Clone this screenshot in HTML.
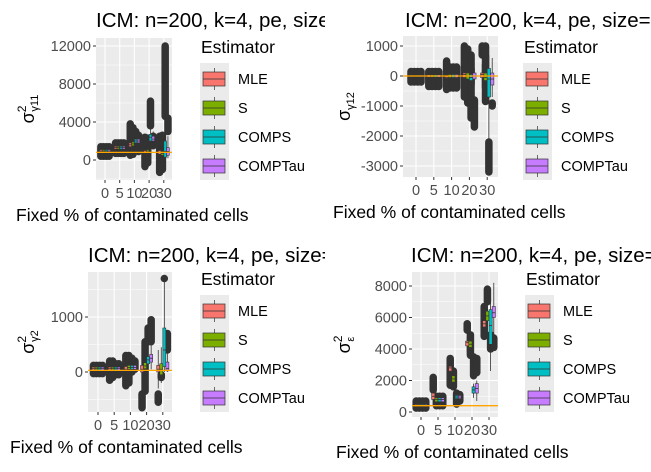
<!DOCTYPE html>
<html><head><meta charset="utf-8"><style>
html,body{margin:0;padding:0;background:#fff;}
svg text{font-family:"Liberation Sans",sans-serif;}
</style></head><body>
<svg id="chart" width="651" height="467" viewBox="0 0 651 467" xmlns="http://www.w3.org/2000/svg"></svg>
<script>
const categories = ["0","5","10","20","30"];
const estimators = ["MLE","S","COMPS","COMPTau"];
const colors = ["#F8766D","#7CAE00","#00BFC4","#C77CFF"];

// Panel 1: sigma^2 gamma11  — [whiskerLow, q1, median, q3, whiskerHigh]
const p1MLE = [[600,850,950,1100,1300],[900,1150,1300,1450,1700],[1000,1400,1600,1800,2200],[300,700,850,1000,1500],[200,600,800,1000,1600]];
const p1S = [[600,850,950,1100,1300],[900,1150,1300,1450,1700],[1000,1500,1700,1900,2300],[400,800,950,1100,1600],[100,500,700,900,1500]];
const p1COMPS = [[600,850,950,1100,1300],[900,1150,1300,1450,1700],[1200,1800,2000,2200,2800],[1500,2000,2400,2700,3500],[-500,300,900,2000,4500]];
const p1COMPTau = [[600,850,950,1100,1300],[900,1150,1300,1450,1700],[1300,1800,2000,2200,2600],[1500,2000,2200,2500,3000],[200,500,900,1300,2500]];
const p1Out = [[[400,1400],[400,1400],[400,1400],[400,1400]],[[700,1800],[700,1800],[700,1800],[700,1800]],[[500,3800],[600,3400],[1000,3000],[900,2600]],[[-700,2400],[-300,2300],[3600,6200],[1500,2500]],[[-1300,2500],[-1000,2600],[4600,12000],[3000,4400]]];
const p1Ticks = [0,4000,8000,12000];
const p1Ref = 800;

// Panel 2: sigma gamma12
const p2MLE = [[-100,-30,0,30,100],[-150,-40,0,40,120],[-150,-80,-50,0,80],[-300,-50,50,100,300],[-400,-50,50,100,400]];
const p2S = [[-100,-30,0,30,100],[-150,-40,0,40,120],[-120,-50,0,50,120],[-300,-100,0,100,300],[-350,-150,-50,100,400]];
const p2COMPS = [[-100,-30,0,30,100],[-150,-40,0,40,120],[-120,-50,0,50,120],[-400,-150,-50,50,300],[-3000,-700,-100,250,700]];
const p2COMPTau = [[-100,-30,0,30,100],[-150,-40,0,40,120],[-120,-50,0,50,120],[-300,-100,0,100,250],[-700,-300,-100,100,600]];
const p2Out = [[[-200,150],[-200,150],[-200,150],[-200,150]],[[-350,150],[-350,150],[-350,150],[-350,150]],[[-450,500],[-400,300],[-400,300],[-400,300]],[[-700,1000],[-900,900],[-1400,700],[-1700,-800]],[[700,1000],[-850,1000],[-3200,-2200],[-1000,-900]]];
const p2Ticks = [-3000,-2000,-1000,0,1000];
const p2Ref = 0;

// Panel 3: sigma^2 gamma2
const p3MLE = [[0,30,60,90,130],[0,30,60,90,140],[-50,20,50,100,200],[-200,0,50,120,350],[-300,0,50,120,400]];
const p3S = [[0,30,60,90,130],[0,30,60,90,140],[0,50,80,120,220],[-150,60,110,170,380],[-200,-50,50,150,450]];
const p3COMPS = [[0,30,60,90,130],[0,30,60,90,140],[0,50,80,120,220],[0,150,220,280,500],[0,100,400,800,1700]];
const p3COMPTau = [[0,30,60,90,130],[0,30,60,90,140],[0,50,80,120,220],[50,180,250,320,500],[0,20,60,180,400]];
const p3Out = [[[-30,120],[-30,120],[-30,120],[-30,120]],[[-150,200],[-100,200],[-50,150],[-50,150]],[[-250,300],[-200,300],[0,250],[50,200]],[[-650,-400],[-350,550],[550,800],[550,950]],[[-550,-400],[-100,-50],[1700,1700],[400,700]]];
const p3Ticks = [0,1000];
const p3Ref = 30;

// Panel 4: sigma^2 epsilon
const p4MLE = [[250,350,420,480,600],[400,800,1000,1200,1600],[2000,2600,2800,2900,3200],[3800,4200,4400,4500,4800],[5000,5400,5600,5800,6100]];
const p4S = [[250,350,420,480,600],[400,650,800,900,1100],[1500,1900,2100,2300,2600],[3900,4100,4300,4500,4800],[5200,5800,6100,6400,7000]];
const p4COMPS = [[250,350,420,480,600],[400,650,800,900,1100],[600,850,950,1050,1200],[900,1200,1400,1600,1800],[2600,4300,5500,6500,7200]];
const p4COMPTau = [[250,350,420,480,600],[400,650,800,900,1100],[700,850,950,1050,1100],[700,1200,1500,1800,2000],[4800,6000,6300,6700,8200]];
const p4Out = [[[250,700],[250,700],[250,700],[250,700]],[[1400,2200],[400,1000],[400,1000],[400,1000]],[[1700,3400],[1600,2600],[500,1200],[700,1100]],[[5200,5600],[3600,4900],[2300,3500],[2500,3400]],[[4800,6700],[7000,7800],[4000,4900],[4100,4700]]];
const p4Ticks = [0,2000,4000,6000,8000];
const p4Ref = 400;

const svg = document.getElementById('chart');
const NS = 'http://www.w3.org/2000/svg';
function mk(tag, attrs, parent){ const e=document.createElementNS(NS,tag); for(const k in attrs) e.setAttribute(k,attrs[k]); (parent||svg).appendChild(e); return e; }

function panel(L, series, outs, ticks, ref, ylab){
  const g = mk('g',{});
  
  
  const y = v => L.y0 - (v - 0) * L.k;
  const xc = i => L.c0 + i * L.dx;
  const cid = L.name + '-clip';
  const cp = mk('clipPath',{id:cid}, g); mk('rect',{x:L.x1,y:L.y1,width:L.x2-L.x1,height:L.y2-L.y1}, cp);
  const bg = mk('rect',{x:L.x1,y:L.y1,width:L.x2-L.x1,height:L.y2-L.y1,fill:'#EBEBEB'}, g);
   
  const step = ticks[1]-ticks[0];
  for(let t=ticks[0]-step; t<=ticks[ticks.length-1]+step; t+=step/2){
    const yy=y(t); if(yy<L.y1||yy>L.y2) continue;
    const major = ticks.includes(t);
    mk('line',{x1:L.x1,x2:L.x2,y1:yy,y2:yy,stroke:'#fff','stroke-width':major?1.1:0.5}, g);
  }
  categories.forEach((c,i)=>{ mk('line',{x1:xc(i),x2:xc(i),y1:L.y1,y2:L.y2,stroke:'#fff','stroke-width':1.1}, g); });
  const inner = mk('g',{'clip-path':'url(#'+cid+')'}, g);
  const bw = L.dx*0.75/4;
  categories.forEach((c,i)=>{
    estimators.forEach((e,j)=>{
      const cx = xc(i) - L.dx*0.375 + bw*(j+0.5);
      const o = outs[i][j];
      const od = mk('line',{x1:cx,x2:cx,y1:y(o[0]),y2:y(o[1]),stroke:'#333','stroke-width':7.5,'stroke-linecap':'round'}, inner);
       
    });
  });
  categories.forEach((c,i)=>{
    estimators.forEach((e,j)=>{
      const d = series[j][i];
      const cx = xc(i) - L.dx*0.375 + bw*(j+0.5);
      mk('line',{x1:cx,x2:cx,y1:y(d[0]),y2:y(d[4]),stroke:'#333','stroke-width':0.8}, inner);
      const b = mk('rect',{x:cx-bw*0.5,y:y(d[3]),width:bw,height:Math.max(1,y(d[1])-y(d[3])),fill:colors[j],stroke:'#333','stroke-width':0.6}, inner);
       
      mk('line',{x1:cx-bw*0.5,x2:cx+bw*0.5,y1:y(d[2]),y2:y(d[2]),stroke:'#333','stroke-width':0.8}, inner);
    });
  });
  const rl = mk('line',{x1:L.x1,x2:L.x2,y1:y(ref),y2:y(ref),stroke:'#FFA500','stroke-width':1.3}, inner);
   
  ticks.forEach(t=>{
    mk('line',{x1:L.x1-3,x2:L.x1,y1:y(t),y2:y(t),stroke:'#333'}, g);
    const tx = mk('text',{x:L.x1-5,y:y(t)+5,'text-anchor':'end','font-size':14.5,fill:'#4D4D4D'}, g);
    tx.textContent = t;  
  });
  categories.forEach((c,i)=>{
    mk('line',{x1:xc(i),x2:xc(i),y1:L.y2,y2:L.y2+3,stroke:'#333'}, g);
    const tx = mk('text',{x:xc(i),y:L.y2+18,'text-anchor':'middle','font-size':14.5,fill:'#4D4D4D'}, g);
    tx.textContent = c;  
  });
  const xt = mk('text',{x:L.xtx,y:L.y2+41,'font-size':17.5,fill:'#000'}, g);
  xt.textContent='Fixed % of contaminated cells';  
  const yt = mk('text',{transform:'translate('+L.ytx+','+((L.y1+L.y2)/2)+') rotate(-90)','text-anchor':'middle','font-size':18,fill:'#000'}, g);
   
  yt.innerHTML = ylab;
  const tcp = mk('clipPath',{id:L.name+'-tclip'}, g); mk('rect',{x:L.tx,y:L.ty-25,width:L.tw,height:35}, tcp);
  const tt = mk('text',{x:L.tx,y:L.ty,'font-size':20.5,fill:'#000','clip-path':'url(#'+L.name+'-tclip)'}, g);
  tt.textContent='ICM: n=200, k=4, pe, size=0.95';  
  const lg = mk('g',{}, g);  
  const lt = mk('text',{x:L.lx+1,y:L.ly,'font-size':17.5,fill:'#000'}, lg); lt.textContent='Estimator';
   
  mk('rect',{x:L.lx,y:L.ly+10,width:29,height:117,fill:'#EBEBEB'}, lg);
  estimators.forEach((e,j)=>{
    const cy = L.ly+26+j*29;
    const en = mk('g',{}, lg);  
    mk('line',{x1:L.lx+14.5,x2:L.lx+14.5,y1:cy-11,y2:cy+11,stroke:'#333','stroke-width':0.7}, en);
    mk('rect',{x:L.lx+3,y:cy-7,width:22,height:14,fill:colors[j],stroke:'#333','stroke-width':0.7}, en);
    mk('line',{x1:L.lx+3,x2:L.lx+25,y1:cy,y2:cy,stroke:'#333','stroke-width':0.7}, en);
    const t = mk('text',{x:L.lx+38,y:cy+5,'font-size':14.5,fill:'#000'}, en); t.textContent=e;
  });
}

const sub = (s)=>'σ<tspan dy="-8" font-size="12">2</tspan><tspan dx="-6" dy="12" font-size="11">'+s+'</tspan>';
panel({name:'panel-gamma11',x1:96,x2:172,y1:38,y2:180,y0:160,k:114/12000,c0:105,dx:14.7,xtx:16,ytx:34,tx:96,ty:27,tw:229,lx:200,ly:53},
  [p1MLE,p1S,p1COMPS,p1COMPTau], p1Out, p1Ticks, p1Ref, sub('γ11'));
panel({name:'panel-gamma12',x1:403,x2:498,y1:36,y2:177,y0:76,k:0.03,c0:416,dx:17.8,xtx:333,ytx:350,tx:405,ty:27,tw:246,lx:523,ly:53},
  [p2MLE,p2S,p2COMPS,p2COMPTau], p2Out, p2Ticks, p2Ref, 'σ<tspan dy="4" font-size="11">γ12</tspan>');
panel({name:'panel-gamma2',x1:88,x2:172,y1:272,y2:412,y0:372,k:0.055,c0:98,dx:16.2,xtx:10,ytx:34,tx:88,ty:262,tw:237,lx:200,ly:285},
  [p3MLE,p3S,p3COMPS,p3COMPTau], p3Out, p3Ticks, p3Ref, sub('γ2'));
panel({name:'panel-epsilon',x1:412,x2:498,y1:272,y2:417,y0:412,k:0.01575,c0:421,dx:17,xtx:336,ytx:350,tx:411,ty:262,tw:240,lx:525,ly:285},
  [p4MLE,p4S,p4COMPS,p4COMPTau], p4Out, p4Ticks, p4Ref, sub('ε'));
</script>
</body></html>
